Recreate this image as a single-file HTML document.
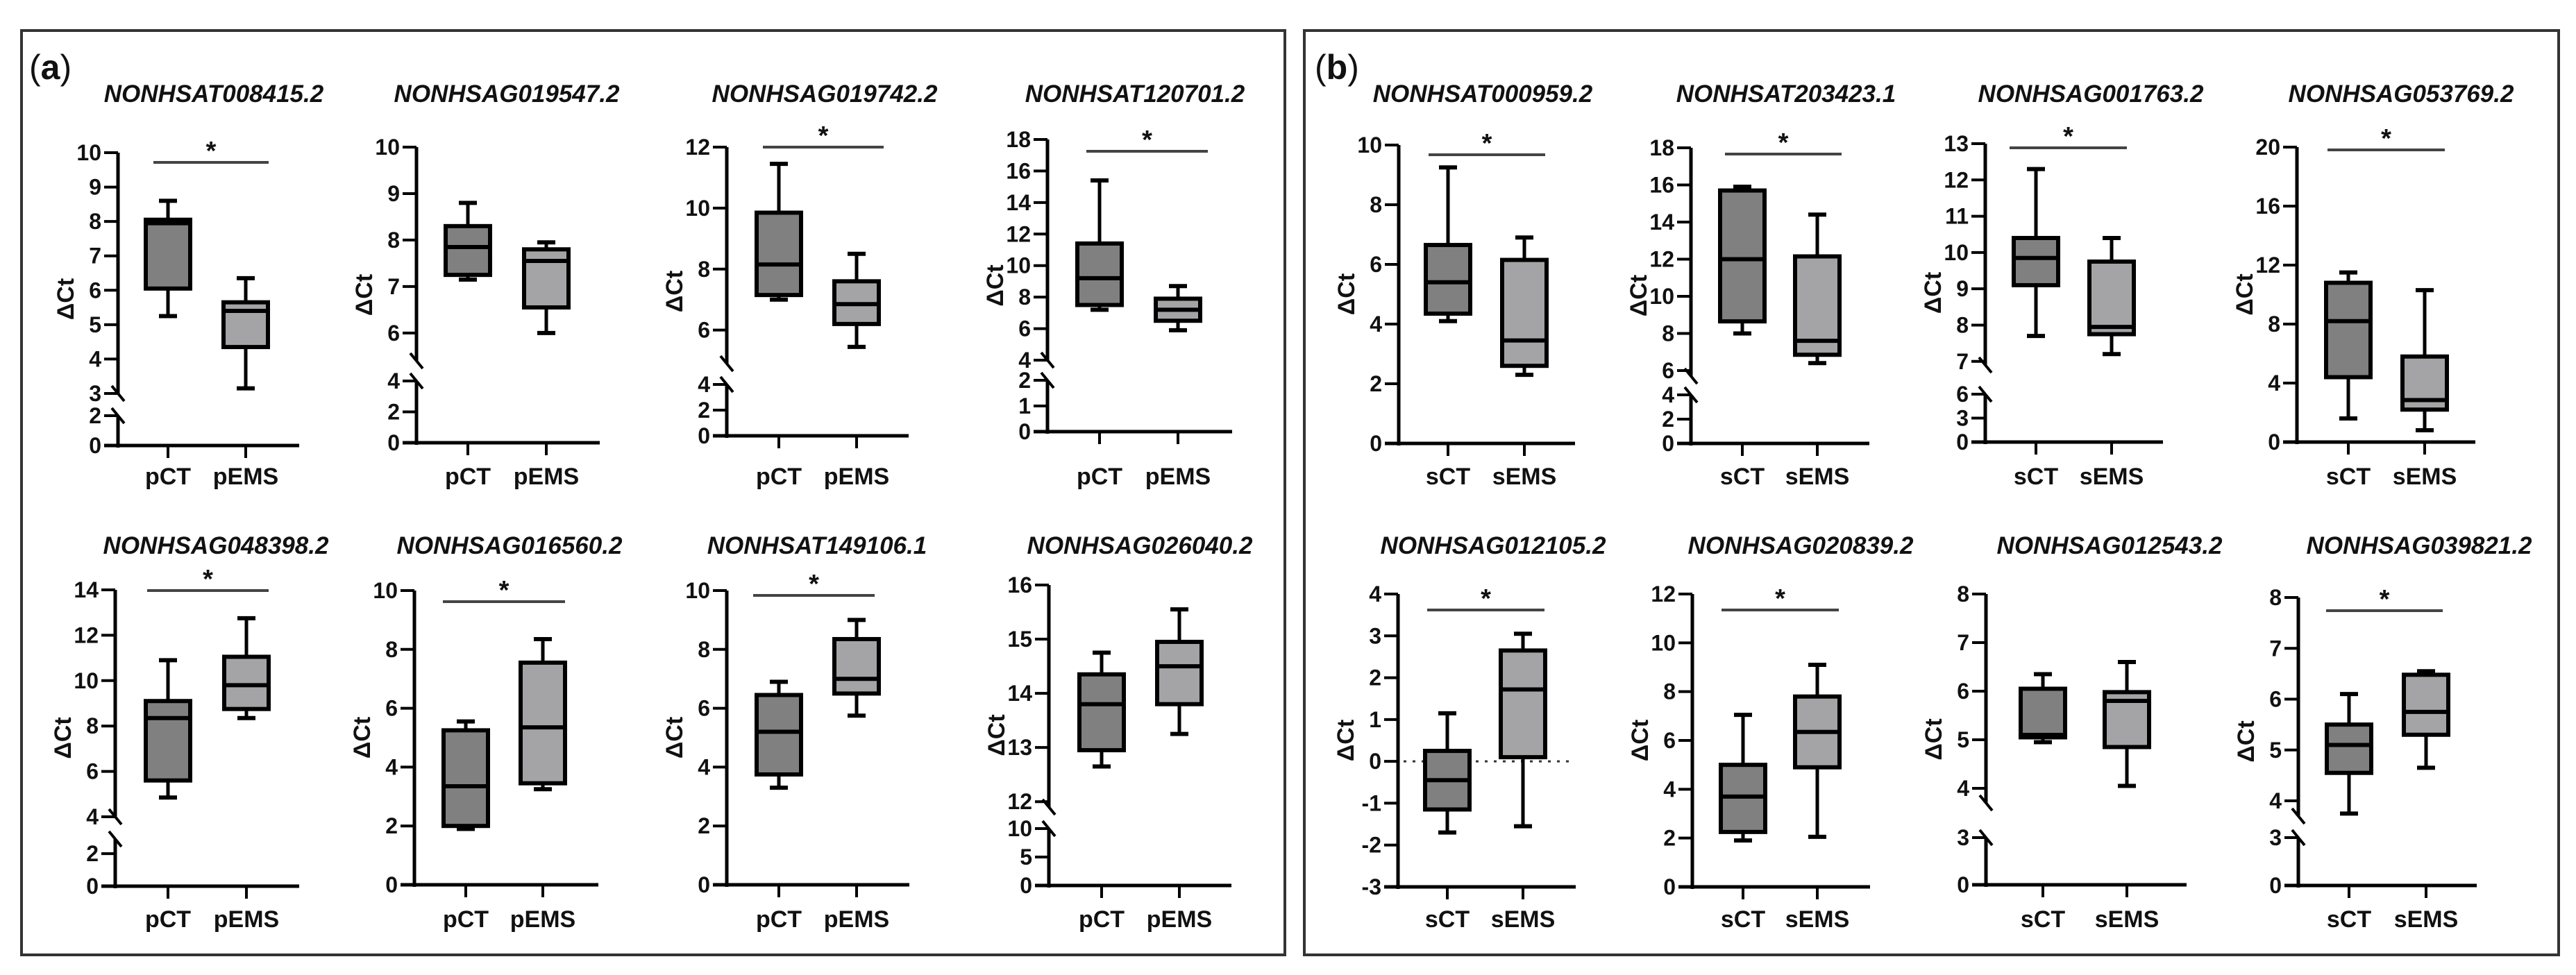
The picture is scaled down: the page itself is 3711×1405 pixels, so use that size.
<!DOCTYPE html>
<html><head><meta charset="utf-8">
<style>
html,body{margin:0;padding:0;background:#fff;}
svg{display:block;font-family:"Liberation Sans",Arial,sans-serif;}
</style></head>
<body>
<svg id="fig" width="3711" height="1405" viewBox="0 0 3711 1405" xmlns="http://www.w3.org/2000/svg">
<rect x="0" y="0" width="3711" height="1405" fill="#fff"/>
<rect x="31" y="44" width="1820" height="1332" fill="none" stroke="#333" stroke-width="4"/>
<rect x="1879" y="44" width="1807" height="1332" fill="none" stroke="#333" stroke-width="4"/>
<text x="42" y="114" font-size="50" fill="#111">(<tspan font-weight="bold">a</tspan>)</text>
<text x="1894" y="114" font-size="50" fill="#111">(<tspan font-weight="bold">b</tspan>)</text>
</svg>
<script>
// ---- data ----
const titles = ["NONHSAT008415.2","NONHSAG019547.2","NONHSAG019742.2","NONHSAT120701.2",
"NONHSAG048398.2","NONHSAG016560.2","NONHSAT149106.1","NONHSAG026040.2",
"NONHSAT000959.2","NONHSAT203423.1","NONHSAG001763.2","NONHSAG053769.2",
"NONHSAG012105.2","NONHSAG020839.2","NONHSAG012543.2","NONHSAG039821.2"];
const groupsA = ["pCT","pEMS"];
const groupsB = ["sCT","sEMS"];
const significant = [1,0,1,1, 1,1,1,0, 1,1,1,1, 1,1,0,1];
const tickLabels = [
[0,2,3,4,5,6,7,8,9,10],[0,2,4,6,7,8,9,10],[0,2,4,6,8,10,12],[0,1,2,4,6,8,10,12,14,16,18],
[0,2,4,6,8,10,12,14],[0,2,4,6,8,10],[0,2,4,6,8,10],[0,5,10,12,13,14,15,16],
[0,2,4,6,8,10],[0,2,4,6,8,10,12,14,16,18],[0,3,6,7,8,9,10,11,12,13],[0,4,8,12,16,20],
[-3,-2,-1,0,1,2,3,4],[0,2,4,6,8,10,12],[0,3,4,5,6,7,8],[0,3,4,5,6,7,8]];
const ctMin = [5.25,7.15,7.0,7.2, 4.85,1.9,3.3,12.65, 4.1,8.0,7.7,1.6, -1.7,1.9,4.95,3.75];
const ctQ1  = [6.05,7.25,7.15,7.5, 5.6,2.0,3.75,12.95, 4.35,8.65,9.1,4.4, -1.15,2.25,5.05,4.55];
const ctMed = [7.95,7.85,8.15,9.2, 8.35,3.35,5.2,13.8, 5.4,12.0,9.85,8.2, -0.45,3.7,5.1,5.1];
const ctQ3  = [8.05,8.3,9.85,11.4, 9.1,5.25,6.45,14.35, 6.65,15.7,10.4,10.8, 0.25,5.0,6.05,5.5];
const ctMax = [8.6,8.8,11.45,15.4, 10.9,5.55,6.9,14.75, 9.25,15.9,12.3,11.5, 1.15,7.05,6.35,6.1];
const emsMin = [3.15,6.0,5.45,5.9, 8.35,3.25,5.75,13.25, 2.3,6.4,7.2,0.8, -1.55,2.05,4.05,4.65];
const emsQ1  = [4.35,6.55,6.2,6.5, 8.75,3.45,6.5,13.8, 2.6,6.85,7.75,2.2, 0.1,4.9,4.85,5.3];
const emsMed = [5.4,7.55,6.85,7.2, 9.8,5.35,7.0,14.5, 3.45,7.6,7.95,2.85, 1.72,6.35,5.8,5.75];
const emsQ3  = [5.65,7.8,7.6,7.9, 11.05,7.55,8.35,14.95, 6.15,12.15,9.75,5.8, 2.65,7.8,5.98,6.48];
const emsMax = [6.35,7.95,8.5,8.7, 12.75,8.35,9.0,15.55, 6.9,14.4,10.4,10.3, 3.05,9.1,6.6,6.55];

// ---- layout (pixels) ----
// [axisX, tick1X, tick2X, xAxisRight, titleX, sigY, sigX1, sigX2]
const layout = [
[170,242,354,431,308,234,221,387],[600,674,787,864,730,0,0,0],[1047,1122,1234,1309,1188,212,1099,1273],[1509,1584,1697,1775,1635,218,1565,1740],
[166,242,355,431,311,851,212,387],[597,671,782,862,734,867,638,814],[1047,1122,1234,1310,1177,858,1085,1260],[1511,1587,1699,1774,1642,0,0,0],
[2015,2086,2196,2269,2136,223,2058,2226],[2436,2510,2618,2693,2573,222,2485,2653],[2860,2933,3042,3116,3012,213,2895,3064],[3309,3383,3493,3566,3459,216,3353,3522],
[2014,2085,2194,2270,2151,879,2056,2225],[2438,2511,2618,2694,2594,879,2480,2649],[2861,2943,3064,3150,3039,0,0,0],[3311,3384,3495,3568,3485,880,3351,3519]];
// axis segments: [valueLo, valueHi, pixelLo, pixelHi]
const segs = [
[[0,2,642,599],[3,10,567,220]],
[[0,4,638,549],[5.4,10,520,212]],
[[0,4,628,554],[4.9,12,524,212]],
[[0,2,622,548],[4,18,519,201]],
[[0,2.9,1277,1209],[4,14,1177,850]],
[[0,10,1275,851]],
[[0,10,1275,851]],
[[0,10,1276,1194],[11.9,16,1163,843]],
[[0,10,639,209]],
[[0,4,639,569],[5.7,18,542,213]],
[[0,6,637,568],[6.9,13,526,207]],
[[0,20,637,212]],
[[-3,4,1278,856]],
[[0,12,1278,856]],
[[0,3,1275,1207],[3.7,8,1157,856]],
[[0,3,1276,1207],[3.7,8,1176,861]]];

const NS = "http://www.w3.org/2000/svg";
const svg = document.getElementById("fig");
function mk(tag, attrs, parent){
  const e = document.createElementNS(NS, tag);
  for (const k in attrs) e.setAttribute(k, attrs[k]);
  (parent || svg).appendChild(e);
  return e;
}
function yScale(i, v){
  const s = segs[i];
  let best = s[0];
  for (const g of s){ if (v >= g[0] - 1e-9 && v <= g[1] + 1e-9){ best = g; break; } }
  if (!(v >= best[0] && v <= best[1])){
    best = v < s[0][0] ? s[0] : s[s.length-1];
  }
  return best[2] + (v - best[0]) * (best[3] - best[2]) / (best[1] - best[0]);
}

function drawBox(g, i, cx, mn, q1, md, q3, mx, fill, name){
  const bw = 64, cw = 26;
  const yMin = yScale(i, mn), yQ1 = yScale(i, q1), yMd = yScale(i, md), yQ3 = yScale(i, q3), yMax = yScale(i, mx);
  const w1 = mk("line",{x1:cx,x2:cx,y1:yMax,y2:yQ3,stroke:"#000","stroke-width":5},g);
  
  
  const w2 = mk("line",{x1:cx,x2:cx,y1:yQ1,y2:yMin,stroke:"#000","stroke-width":5},g);
  
  
  const c1 = mk("line",{x1:cx-cw/2,x2:cx+cw/2,y1:yMax,y2:yMax,stroke:"#000","stroke-width":6},g);
  
  
  const c2 = mk("line",{x1:cx-cw/2,x2:cx+cw/2,y1:yMin,y2:yMin,stroke:"#000","stroke-width":6},g);
  
  
  const r = mk("rect",{x:cx-bw/2,y:yQ3,width:bw,height:Math.max(1,yQ1-yQ3),fill:fill,stroke:"#000","stroke-width":6},g);
  
  
  const m = mk("line",{x1:cx-bw/2,x2:cx+bw/2,y1:yMd,y2:yMd,stroke:"#000","stroke-width":6},g);
  
  
}

for (let i = 0; i < 16; i++){
  const L = layout[i];
  const ax = L[0];
  const panelB = i >= 8;
  const row2 = (i % 8) >= 4;
  const groups = panelB ? groupsB : groupsA;
  const g = mk("g",{});
  
  

  const t = mk("text",{x:L[4],y:row2?798:147,"text-anchor":"middle","font-size":35,"font-weight":"bold","font-style":"italic",fill:"#111"},g);
  t.textContent = titles[i];
  
  

  // y axis segments
  const s = segs[i];
  for (let k = 0; k < s.length; k++){
    const seg = s[k];
    const yl = seg[2], yh = seg[3];
    const extTop = (k === s.length-1) ? 0 : 0;
    const al = mk("line",{x1:ax,x2:ax,y1:yl + (k===0?3:0),y2:yh - extTop,stroke:"#000","stroke-width":5},g);
    
    
    if (s.length > 1){
      const yb = (k === 0) ? yh : yl;
      const bm = mk("line",{x1:ax-9,y1:yb-11,x2:ax+9,y2:yb+11,stroke:"#000","stroke-width":4},g);
      
      
    }
  }
  // ticks
  const tl = tickLabels[i];
  for (let k = 0; k < tl.length; k++){
    const y = yScale(i, tl[k]);
    const tk = mk("line",{x1:ax-20,x2:ax,y1:y,y2:y,stroke:"#000","stroke-width":4},g);
    
    
    const lb = mk("text",{x:ax-24,y:y+11,"text-anchor":"end","font-size":32,"font-weight":"bold",fill:"#111"},g);
    lb.textContent = String(tl[k]);
    
    
  }
  // y axis title
  const ymid = (yScale(i, tl[0]) + yScale(i, tl[tl.length-1])) / 2;
  const yt = mk("text",{x:0,y:0,"text-anchor":"middle","font-size":34,"font-weight":"bold",fill:"#111",transform:"translate("+(ax-64)+","+ymid+") rotate(-90)"},g);
  yt.textContent = "ΔCt";
  
  

  // x axis
  const y0 = yScale(i, tl[0]);
  const xa = mk("line",{x1:ax-20,x2:L[3],y1:y0,y2:y0,stroke:"#000","stroke-width":5},g);
  
  
  const cxs = [L[1], L[2]];
  for (let k = 0; k < 2; k++){
    const xt = mk("line",{x1:cxs[k],x2:cxs[k],y1:y0,y2:y0+18,stroke:"#000","stroke-width":4},g);
    
    
    const xl = mk("text",{x:cxs[k],y:row2?1336:698,"text-anchor":"middle","font-size":34,"font-weight":"bold",fill:"#111"},g);
    xl.textContent = groups[k];
    
    
  }

  // zero reference line for negative axis
  if (tl[0] < 0){
    const yz = yScale(i, 0);
    const zl = mk("line",{x1:ax+8,x2:L[3]-8,y1:yz,y2:yz,stroke:"#333","stroke-width":3,"stroke-dasharray":"4 9"},g);
    
    
  }

  drawBox(g, i, L[1], ctMin[i], ctQ1[i], ctMed[i], ctQ3[i], ctMax[i], "#808080", groups[0].toLowerCase());
  drawBox(g, i, L[2], emsMin[i], emsQ1[i], emsMed[i], emsQ3[i], emsMax[i], "#a4a4a6", groups[1].toLowerCase());

  if (significant[i]){
    const sb = mk("line",{x1:L[6],x2:L[7],y1:L[5],y2:L[5],stroke:"#444","stroke-width":4},g);
    
    
    const st = mk("text",{x:(L[6]+L[7])/2,y:L[5]-4,"text-anchor":"middle","font-size":38,"font-weight":"bold",fill:"#111"},g);
    st.textContent = "*";
    
    
  }
}
</script>
</body></html>
